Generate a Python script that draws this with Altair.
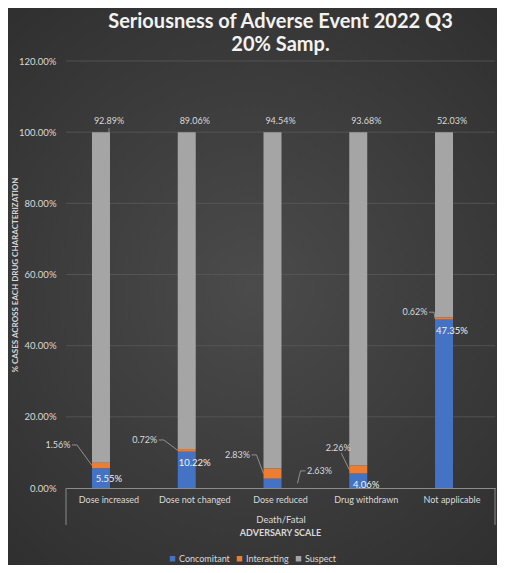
import pandas as pd
import altair as alt

# values, in %
categories = ['Dose increased', 'Dose not changed', 'Dose reduced', 'Drug withdrawn', 'Not applicable']
series = ['Concomitant', 'Interacting', 'Suspect']
concomitant = [5.55, 10.22, 2.63, 4.06, 47.35]
interacting = [1.56, 0.72, 2.83, 2.26, 0.62]
suspect = [92.89, 89.06, 94.54, 93.68, 52.03]
colors = ['#4472C4', '#ED7D31', '#A5A5A5']
y_ticks = [0, 0.2, 0.4, 0.6, 0.8, 1.0, 1.2]

# where the small labels sit (label centre, px from bar centre / % height)
inter_label_dx = [-51, -50, -43, -28, -37]
inter_label_y = [12.1, 13.5, 9.3, 11.2, 49.4]
conc_out_dx = 39       # the 2.63% label sits right of its bar
conc_out_y = 4.8

W, H = 429, 427
HALF = 17              # half bar width in px
TXT = '#D9D9D9'

rows = []
for i, c in enumerate(categories):
    for k, (s, v) in enumerate(zip(series, [concomitant[i], interacting[i], suspect[i]])):
        rows.append({'cat': c, 'series': s, 'ord': k, 'value': v / 100})
df = pd.DataFrame(rows)

x_scale = alt.Scale(domain=categories, paddingInner=0.6035, paddingOuter=0.303)
off_scale = alt.Scale(domain=[-HALF, HALF], range=[0, 2 * HALF])
y_scale = alt.Scale(domain=[0, 1.2])

base_x = alt.X('cat:N', scale=x_scale, sort=categories)

# dark chart-area background with the lighter centre
one = pd.DataFrame({'t': ['ADVERSARY SCALE']})
bg = alt.Chart(one).mark_rect(
    fill=alt.RadialGradient(gradient='radial', x1=0.5, y1=0.5, r1=0, x2=0.5, y2=0.5, r2=0.72,
                            stops=[alt.GradientStop(color='#4B4B4B', offset=0),
                                   alt.GradientStop(color='#2D2D2D', offset=1)])
).encode(x=alt.value(-58), x2=alt.value(W + 2), y=alt.value(-53), y2=alt.value(H + 77))

grid = alt.Chart(pd.DataFrame({'v': y_ticks[1:]})).mark_rule(color='#595959', strokeWidth=0.8).encode(
    y=alt.Y('v:Q', scale=y_scale))

bars = alt.Chart(df).mark_bar().encode(
    x=alt.X('cat:N', scale=x_scale, sort=categories,
            axis=alt.Axis(title='Death/Fatal', labelAngle=0, ticks=False, domainColor='#8C8C8C',
                          labelPadding=7, titlePadding=10, titleFontWeight='normal', grid=False,
                          zindex=1)),
    y=alt.Y('value:Q', stack='zero', scale=y_scale,
            axis=alt.Axis(title='% CASES ACROSS EACH DRUG CHARACTERIZATION', format='.2%',
                          values=y_ticks, ticks=False, domain=False, grid=False, zindex=1,
                          labelPadding=10, titleX=-51, titleBaseline='middle', titleFontSize=8)),
    color=alt.Color('series:N', scale=alt.Scale(domain=series, range=colors),
                    legend=alt.Legend(title=None, orient='none', direction='horizontal',
                                      legendX=102, legendY=493, symbolType='square',
                                      symbolSize=30, symbolStrokeWidth=0, columnPadding=5,
                                      labelOffset=2, labelFontSize=9, labelColor=TXT)),
    order=alt.Order('ord:Q')
)

# suspect labels above the 100% top
top_df = pd.DataFrame({'cat': categories,
                       'y': [(a + b + c) / 100 for a, b, c in zip(concomitant, interacting, suspect)],
                       'label': [f'{v:.2f}%' for v in suspect]})
top_text = alt.Chart(top_df).mark_text(baseline='bottom', dy=-6, fontSize=9, color=TXT).encode(
    x=base_x, y=alt.Y('y:Q', scale=y_scale), text='label:N')

# concomitant labels inside the blue segment
in_df = pd.DataFrame({'cat': categories, 'y': [v / 100 for v in concomitant],
                      'label': [f'{v:.2f}%' for v in concomitant]})
in_df = in_df[in_df['cat'] != 'Dose reduced']
in_text = alt.Chart(in_df).mark_text(baseline='top', dy=6, fontSize=9.5, color='#F2F2F2').encode(
    x=base_x, y=alt.Y('y:Q', scale=y_scale), text='label:N')

# side labels (interacting + the small concomitant one)
side = []
for i, c in enumerate(categories):
    side.append({'cat': c, 'dx': inter_label_dx[i], 'y': inter_label_y[i] / 100,
                 'label': f'{interacting[i]:.2f}%'})
side.append({'cat': 'Dose reduced', 'dx': conc_out_dx, 'y': conc_out_y / 100,
             'label': f'{concomitant[2]:.2f}%'})
side_df = pd.DataFrame(side)
side_text = alt.Chart(side_df).mark_text(fontSize=9, color=TXT).encode(
    x=base_x, xOffset=alt.XOffset('dx:Q', scale=off_scale),
    y=alt.Y('y:Q', scale=y_scale), text='label:N')

# leader lines from the side labels to their segments
pts = []
for i, c in enumerate(categories):
    dx, ly = inter_label_dx[i], inter_label_y[i] / 100
    anchor = (concomitant[i] + interacting[i] / 2) / 100
    if dx + 19 < -HALF:
        path = [(dx + 14, ly), (dx + 19, ly), (-HALF, anchor)]
    else:
        path = [(dx + 3, ly - 0.014), (-HALF, anchor)]
    for k, (px, py) in enumerate(path):
        pts.append({'cat': c, 'lid': f'i{i}', 'k': k, 'dx': px, 'y': py})
ly = conc_out_y / 100
for k, (px, py) in enumerate([(conc_out_dx - 14, ly), (conc_out_dx - 19, ly),
                              (HALF, concomitant[2] / 200)]):
    pts.append({'cat': 'Dose reduced', 'lid': 'c2', 'k': k, 'dx': px, 'y': py})
for k, py in enumerate([1.0, 1.012]):
    pts.append({'cat': categories[0], 'lid': 's0', 'k': k, 'dx': 0, 'y': py})
lead_df = pd.DataFrame(pts)
leaders = alt.Chart(lead_df).mark_line(color='#A6A6A6', strokeWidth=0.8).encode(
    x=base_x, xOffset=alt.XOffset('dx:Q', scale=off_scale),
    y=alt.Y('y:Q', scale=y_scale), detail='lid:N', order='k:Q')

# bracket round the category axis and the outer axis title
bracket_l = alt.Chart(one).mark_rule(color='#8C8C8C').encode(
    x=alt.value(0), y=alt.value(H), y2=alt.value(H + 37))
bracket_r = alt.Chart(one).mark_rule(color='#8C8C8C').encode(
    x=alt.value(W), y=alt.value(H), y2=alt.value(H + 37))
outer_title = alt.Chart(one).mark_text(fontSize=9, fontWeight='bold', color=TXT).encode(
    x=alt.value(W / 2), y=alt.value(H + 45), text='t:N')

chart = alt.layer(
    bg, grid, bars, leaders, top_text, in_text, side_text, bracket_l, bracket_r, outer_title
).properties(
    width=W, height=H,
    title=alt.TitleParams(['Seriousness of Adverse Event 2022 Q3', '20% Samp.'],
                          fontSize=20, fontWeight='bold', color='#F2F2F2', lineHeight=23,
                          anchor='middle', offset=-47),
    padding={'left': 58, 'top': 53, 'right': 2, 'bottom': 77},
    autosize=alt.AutoSizeParams(type='none')
).configure(
    background='#3A3A3A', font='Lato'
).configure_view(
    stroke=None
).configure_axis(
    labelColor=TXT, titleColor=TXT, labelFontSize=9.5, titleFontSize=9.5,
    labelFont='Lato', titleFont='Lato'
).configure_axisX(
    labelFontSize=9
)

chart.save('out.html', embed_options={'renderer': 'svg', 'actions': False})
